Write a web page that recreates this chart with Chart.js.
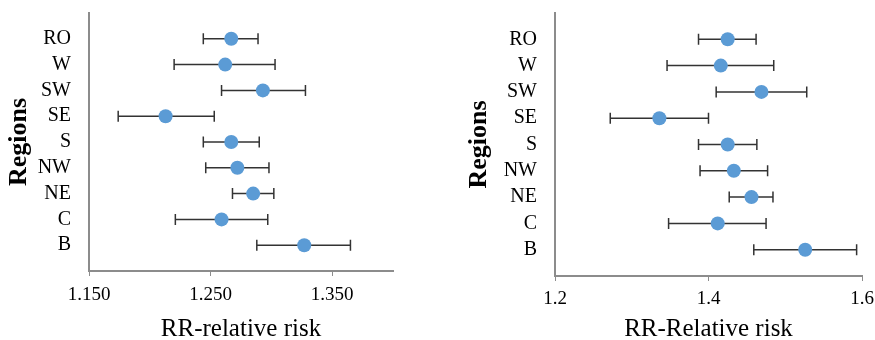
<!DOCTYPE html>
<html>
<head>
<meta charset="utf-8">
<script src="https://cdn.jsdelivr.net/npm/chart.js@4.4.0/dist/chart.umd.min.js"></script>
<style>
  html, body { margin: 0; padding: 0; background: #fff; }
  #wrap { position: relative; width: 875px; height: 340px; overflow: hidden; }
  .box { position: absolute; top: 0; height: 340px; }
</style>
</head>
<body>
<div id="wrap">
  <div class="box" style="left:0;width:437px"><canvas id="left" width="437" height="340"></canvas></div>
  <div class="box" style="left:437px;width:438px"><canvas id="right" width="438" height="340"></canvas></div>
</div>
<script>
// regions, top to bottom
const regions = ['RO', 'W', 'SW', 'SE', 'S', 'NW', 'NE', 'C', 'B'];

// left panel
const leftRR   = [1.267, 1.262, 1.293, 1.213, 1.267, 1.272, 1.285, 1.259, 1.327];
const leftLow  = [1.244, 1.220, 1.259, 1.174, 1.244, 1.246, 1.268, 1.221, 1.288];
const leftHigh = [1.289, 1.303, 1.328, 1.253, 1.290, 1.298, 1.302, 1.297, 1.365];
const leftTicks = [1.15, 1.25, 1.35];

// right panel
const rightRR   = [1.425, 1.416, 1.469, 1.336, 1.425, 1.433, 1.456, 1.412, 1.526];
const rightLow  = [1.387, 1.346, 1.410, 1.272, 1.387, 1.389, 1.427, 1.348, 1.459];
const rightHigh = [1.462, 1.485, 1.528, 1.400, 1.463, 1.477, 1.484, 1.475, 1.593];
const rightTicks = [1.2, 1.4, 1.6];

const serif = "'Liberation Serif', 'Times New Roman', serif";
const axisGrey = '#8c8c8c';

// whiskers drawn under the points, placed with the chart's own scales
const errorBars = {
  id: 'errorBars',
  beforeDatasetsDraw(chart, args, opts) {
    const { ctx, scales: { x, y } } = chart;
    ctx.save();
    ctx.strokeStyle = '#333';
    ctx.lineWidth = 1.5;
    opts.low.forEach((lo, i) => {
      const py = y.getPixelForValue(regions.length - i);
      const x1 = x.getPixelForValue(lo);
      const x2 = x.getPixelForValue(opts.high[i]);
      ctx.beginPath();
      ctx.moveTo(x1, py); ctx.lineTo(x2, py);
      ctx.moveTo(x1, py - 5.5); ctx.lineTo(x1, py + 5.5);
      ctx.moveTo(x2, py - 5.5); ctx.lineTo(x2, py + 5.5);
      ctx.stroke();
    });
    ctx.restore();
  }
};

function makeChart(id, p) {
  const points = p.rr.map((v, i) => ({ x: v, y: regions.length - i }));
  return new Chart(document.getElementById(id), {
    type: 'scatter',
    data: {
      datasets: [{
        data: points,
        pointRadius: 7,
        pointHoverRadius: 7,
        backgroundColor: '#5b9bd5',
        borderWidth: 0
      }]
    },
    plugins: [errorBars],
    options: {
      responsive: false,
      animation: false,
      layout: { padding: p.padding },
      plugins: {
        legend: { display: false },
        tooltip: { enabled: false },
        errorBars: { low: p.low, high: p.high }
      },
      scales: {
        x: {
          type: 'linear',
          min: p.min,
          max: p.max,
          afterBuildTicks: s => { s.ticks = p.ticks.map(v => ({ value: v })); },
          afterFit: s => { s.height = p.xHeight; s.paddingLeft = 0; s.paddingRight = 0; },
          ticks: {
            callback: v => v.toFixed(p.decimals),
            font: { family: serif, size: 19 },
            color: '#000',
            padding: p.xTickPad,
            maxRotation: 0,
            autoSkip: false
          },
          grid: { drawOnChartArea: false, drawTicks: true, tickLength: 5, color: axisGrey, lineWidth: 1 },
          border: { color: axisGrey, width: 2 },
          title: {
            display: true,
            text: p.xTitle,
            color: '#000',
            font: { family: serif, size: 25, lineHeight: 0.84 },
            padding: 0
          }
        },
        y: {
          type: 'linear',
          min: 0,
          max: 10,
          afterBuildTicks: s => { s.ticks = regions.map((r, i) => ({ value: regions.length - i })); },
          afterFit: s => { s.width = p.yWidth; s.paddingTop = 0; s.paddingBottom = 0; },
          ticks: {
            callback: v => regions[regions.length - v],
            font: { family: serif, size: 20 },
            color: '#000',
            padding: 18,
            autoSkip: false
          },
          grid: { display: false, drawTicks: false },
          border: { color: axisGrey, width: 2 },
          title: {
            display: true,
            text: 'Regions',
            color: '#000',
            font: { family: serif, size: 26, weight: 'bold', lineHeight: 1 },
            padding: { top: p.yTitlePad, bottom: 0 }
          }
        }
      }
    }
  });
}

makeChart('left', {
  rr: leftRR, low: leftLow, high: leftHigh, ticks: leftTicks,
  min: 1.15, max: 1.4, decimals: 3, xTitle: 'RR-relative risk',
  padding: { top: 13, right: 44, left: 0, bottom: 0 },
  yWidth: 89, xHeight: 69, xTickPad: 8, yTitlePad: 6
});

makeChart('right', {
  rr: rightRR, low: rightLow, high: rightHigh, ticks: rightTicks,
  min: 1.2, max: 1.6, decimals: 1, xTitle: 'RR-Relative risk',
  padding: { top: 13, right: 13, left: 0, bottom: 0 },
  yWidth: 118, xHeight: 64, xTickPad: 7, yTitlePad: 29
});
</script>
</body>
</html>
